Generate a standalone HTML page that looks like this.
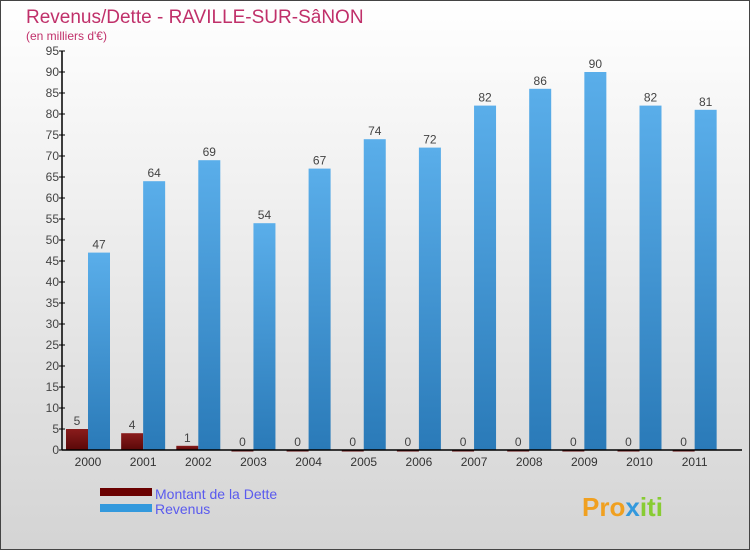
<!DOCTYPE html>
<html><head><meta charset="utf-8"><style>
body{margin:0}
#c{width:750px;height:550px;position:relative;font-family:"Liberation Sans",sans-serif;}
</style></head><body>
<div id="c">
<svg width="750" height="550" xmlns="http://www.w3.org/2000/svg" id="svg">
<defs>
<linearGradient id="bg" x1="0" y1="0" x2="0" y2="1"><stop offset="0" stop-color="#ffffff"/><stop offset="1" stop-color="#d4d4d4"/></linearGradient>
<linearGradient id="blue" x1="0" y1="0" x2="0" y2="1"><stop offset="0" stop-color="#5aaeea"/><stop offset="1" stop-color="#2a7ab8"/></linearGradient>
<linearGradient id="red" x1="0" y1="0" x2="0" y2="1"><stop offset="0" stop-color="#8a1c1c"/><stop offset="1" stop-color="#5a0808"/></linearGradient>
</defs>
<rect x="0.5" y="0.5" width="749" height="549" fill="url(#bg)" stroke="#444"/>
<text x="26" y="23" font-size="19" fill="#c0306a">Revenus/Dette - RAVILLE-SUR-SâNON</text>
<text x="26" y="40" font-size="12" fill="#c0306a">(en milliers d'€)</text>
<g id="grid"></g>
<g id="bars"></g>
<g id="axes"></g>
<rect x="100" y="488" width="52" height="8" fill="#6a0000"/>
<text x="155" y="499" font-size="14" fill="#5a5aee">Montant de la Dette</text>
<rect x="100" y="504" width="52" height="8" fill="#3399dd"/>
<text x="155" y="514" font-size="14" fill="#5a5aee">Revenus</text>
<text x="582" y="516" font-size="26" font-weight="bold" fill="#f0a020">Pro<tspan fill="#3399dd">x</tspan><tspan fill="#88cc33">iti</tspan></text>
</svg>
</div>
<script>
const years=["2000","2001","2002","2003","2004","2005","2006","2007","2008","2009","2010","2011"];
const dette=[5,4,1,0,0,0,0,0,0,0,0,0];
const revenus=[47,64,69,54,67,74,72,82,86,90,82,81];
const ticks=[0,5,10,15,20,25,30,35,40,45,50,55,60,65,70,75,80,85,90,95];
const NS="http://www.w3.org/2000/svg";
const x0=62,step=55.15,y0=450,k=4.2;
const y=v=>y0-v*k;
const gx=i=>x0+4+i*step;
function mk(t,a,p){const e=document.createElementNS(NS,t);for(const n in a)e.setAttribute(n,a[n]);p.appendChild(e);return e;}
const bars=document.getElementById('bars'),axes=document.getElementById('axes');
years.forEach((yr,i)=>{
  const bx=gx(i);
  const r=mk('rect',{x:bx,y:y(dette[i]),width:22,height:Math.max(dette[i]*k,1.5),fill:'url(#red)'},bars);
  
  
  const b=mk('rect',{x:bx+22,y:y(revenus[i]),width:22,height:revenus[i]*k,fill:'url(#blue)'},bars);
  
  
  const t1=mk('text',{x:bx+11,y:y(dette[i])-4,'font-size':12,fill:'#444','text-anchor':'middle'},bars);t1.textContent=dette[i];
  
  
  const t2=mk('text',{x:bx+33,y:y(revenus[i])-4,'font-size':12,fill:'#444','text-anchor':'middle'},bars);t2.textContent=revenus[i];
  
  
  const xl=mk('text',{x:bx+22,y:466,'font-size':12,fill:'#333','text-anchor':'middle'},axes);xl.textContent=yr;
  
  
});
mk('line',{x1:x0,y1:y(95),x2:x0,y2:y0,stroke:'#000','stroke-width':1.5},axes);
mk('line',{x1:x0,y1:y0,x2:742,y2:y0,stroke:'#000','stroke-width':1.5},axes);
ticks.forEach(v=>{
  mk('line',{x1:x0-3,y1:y(v),x2:x0+3,y2:y(v),stroke:'#000'},axes);
  const t=mk('text',{x:x0-3,y:y(v)+4,'font-size':12,fill:'#444','text-anchor':'end'},axes);t.textContent=v;
  
  
});
</script>
</body></html>
